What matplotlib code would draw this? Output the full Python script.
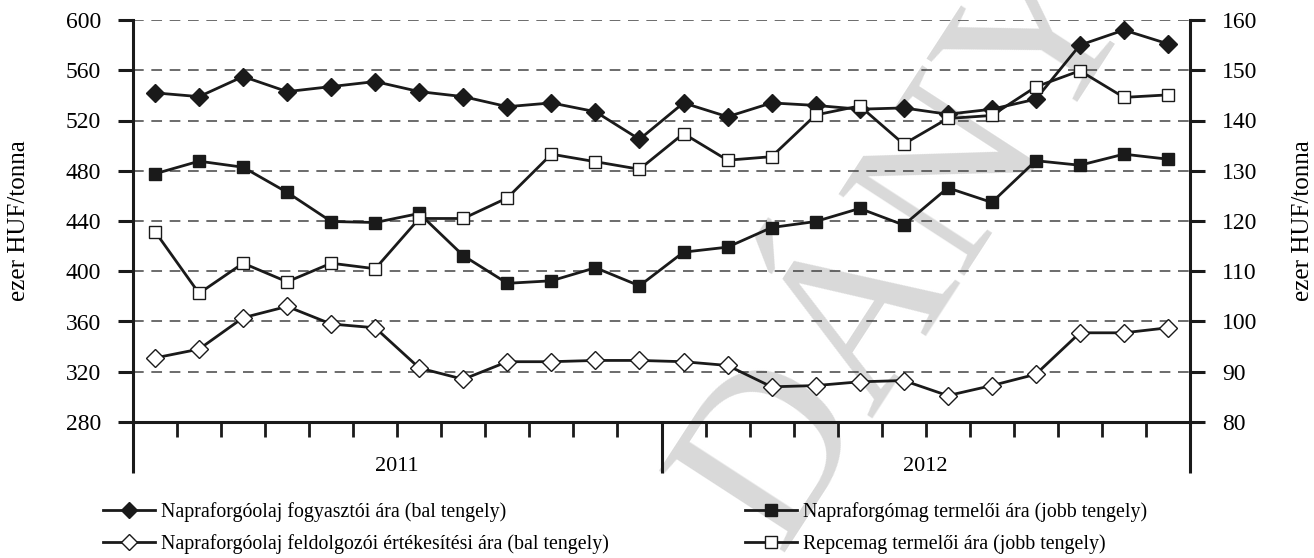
import numpy as np
import matplotlib
matplotlib.use('Agg')
import matplotlib.pyplot as plt

plt.rcParams['font.family'] = ['Liberation Serif', 'DejaVu Serif']

# havi adatok, 2011 jan - 2012 dec
months = np.arange(24) + 0.5
years = ['2011', '2012']

olaj_fogyasztoi = [542, 539, 555, 543, 547, 551, 543, 539, 531, 534, 527, 505,
                   534, 523, 534, 532, 529, 530, 525, 529, 537, 580, 592, 581]
olaj_feldolgozoi = [331, 338, 363, 372, 358, 355, 323, 314, 328, 328, 329, 329,
                    328, 325, 308, 309, 312, 313, 301, 309, 318, 351, 351, 355]
napraforgomag = [129.4, 131.9, 130.7, 125.7, 119.9, 119.7, 121.5, 113.1, 107.6, 108.1, 110.7, 107.1,
                 113.8, 114.8, 118.7, 119.9, 122.5, 119.2, 126.6, 123.7, 132.0, 131.1, 133.3, 132.3]
repcemag = [117.9, 105.6, 111.6, 107.9, 111.6, 110.5, 120.5, 120.5, 124.6, 133.3, 131.8, 130.3,
            137.4, 132.1, 132.8, 141.1, 142.9, 135.3, 140.4, 141.0, 146.7, 149.9, 144.6, 145.1]

left_ticks = [280, 320, 360, 400, 440, 480, 520, 560, 600]
right_ticks = [80, 90, 100, 110, 120, 130, 140, 150, 160]

labels = ['Napraforgóolaj fogyasztói ára (bal tengely)',
          'Napraforgóolaj feldolgozói értékesítési ára (bal tengely)',
          'Napraforgómag termelői ára (jobb tengely)',
          'Repcemag termelői ára (jobb tengely)']

fig = plt.figure(figsize=(13.14, 5.58), dpi=100)
fig.patch.set_facecolor('white')

# vízjel
fig.text(0.695, 0.56, 'DÁNY', rotation=57, rotation_mode='anchor', ha='center', va='center',
         fontsize=165, color='#d9d9d9', zorder=-5)

ax = fig.add_axes([133 / 1314, 1 - 422 / 558, (1190 - 133) / 1314, (422 - 20) / 558])
ax.patch.set_visible(False)
ax2 = ax.twinx()
ax2.patch.set_visible(False)

lw = 2.0
h1, = ax.plot(months, olaj_fogyasztoi, color='#1a1a1a', lw=lw, marker='D', ms=9.5,
              mfc='#1a1a1a', mec='#1a1a1a', zorder=3)
h2, = ax.plot(months, olaj_feldolgozoi, color='#1a1a1a', lw=lw, marker='D', ms=9.5,
              mfc='white', mec='#1a1a1a', mew=1.0, zorder=3)
h3, = ax2.plot(months, napraforgomag, color='#1a1a1a', lw=lw, marker='s', ms=8.5,
               mfc='#1a1a1a', mec='#1a1a1a', zorder=3)
h4, = ax2.plot(months, repcemag, color='#1a1a1a', lw=lw, marker='s', ms=8.5,
               mfc='white', mec='#1a1a1a', mew=1.0, zorder=3)

ax.set_xlim(0, 24)
ax.set_ylim(280, 600)
ax2.set_ylim(80, 160)
ax.set_yticks(left_ticks)
ax2.set_yticks(right_ticks)

for t in left_ticks[1:]:
    ax.axhline(t, color='#444444', lw=1.1, dashes=(7, 5), zorder=1)

for a in (ax, ax2):
    for s in a.spines.values():
        s.set_linewidth(2.2)
        s.set_color('#1a1a1a')
    a.spines['top'].set_visible(False)
ax2.spines['left'].set_visible(False)
ax.spines['right'].set_visible(False)
ax2.spines['bottom'].set_visible(False)

ax.tick_params(axis='y', direction='out', length=11, width=2.2, labelsize=17, pad=12, color='#1a1a1a')
ax2.tick_params(axis='y', direction='out', length=11, width=2.2, labelsize=17, pad=12, color='#1a1a1a')

ax.set_xticks([0, 12, 24])
ax.set_xticks([m for m in range(1, 24) if m != 12], minor=True)
ax.tick_params(axis='x', which='major', direction='out', length=37, width=2.2, labelbottom=False,
               color='#1a1a1a')
ax.tick_params(axis='x', which='minor', direction='out', length=10.5, width=2.0, color='#1a1a1a')

for i, yr in enumerate(years):
    ax.text(6 + 12 * i, -0.11, yr, transform=ax.get_xaxis_transform(), ha='center', va='center',
            fontsize=16)

ax.set_ylabel('ezer HUF/tonna', fontsize=18)
ax2.set_ylabel('ezer HUF/tonna', fontsize=18)
ax.yaxis.set_label_coords(-0.0974, 0.5)
ax2.yaxis.set_label_coords(1.0965, 0.5)

leg_kw = dict(frameon=False, fontsize=14.3, handlelength=2.6, handletextpad=0.3,
              labelspacing=0.6, borderaxespad=0, borderpad=0)
leg1 = fig.legend([h1, h2], labels[:2], loc='upper left', bbox_to_anchor=(103 / 1314, 1 - 502 / 558), **leg_kw)
leg2 = fig.legend([h3, h4], labels[2:], loc='upper left', bbox_to_anchor=(745 / 1314, 1 - 502 / 558), **leg_kw)
for leg in (leg1, leg2):
    for ln in leg.get_lines():
        ln.set_markersize(8)

fig.savefig('out.png', dpi=100, facecolor='white')
